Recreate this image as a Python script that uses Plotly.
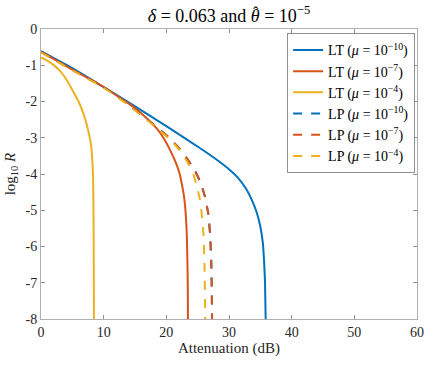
import plotly.graph_objects as go

# --- dados ---
lt_mu10_x = [0, 5, 9.4, 14.7, 20, 25.4, 28, 30, 31.5, 32.7, 33.6, 34.4, 35.0, 35.4, 35.6, 35.75, 35.85]
lt_mu10_y = [-0.61, -1.08, -1.54, -2.1, -2.68, -3.29, -3.6, -3.87, -4.12, -4.4, -4.7, -5.05, -5.45, -5.9, -6.4, -7.0, -8.0]

lt_mu7_x = [0, 5, 10, 14.7, 17, 18.5, 19.6, 20.6, 21.5, 22.1, 22.5, 22.85, 23.1, 23.25, 23.35, 23.42, 23.45]
lt_mu7_y = [-0.63, -1.12, -1.6, -2.14, -2.48, -2.75, -3.02, -3.34, -3.68, -3.98, -4.3, -4.65, -5.1, -5.6, -6.3, -7.0, -8.0]

lt_mu4_x = [0, 1, 2, 3, 4, 5, 6, 6.8, 7.4, 7.9, 8.15, 8.3, 8.38, 8.42, 8.45]
lt_mu4_y = [-0.78, -0.87, -0.99, -1.15, -1.38, -1.68, -2.0, -2.35, -2.7, -3.1, -3.5, -4.0, -5.0, -6.5, -8.0]

lp_mu10_x = [0, 5, 10, 13.7, 17.4, 20.6, 22.2, 23.5, 24.6, 25.5, 26.2, 26.7, 27.0, 27.2, 27.3]
lp_mu10_y = [-0.63, -1.12, -1.6, -2.05, -2.56, -3.02, -3.32, -3.62, -3.92, -4.25, -4.65, -5.1, -5.7, -6.6, -8.0]

lp_mu7_x = [0, 5, 10, 13.7, 17.4, 20.6, 22.2, 23.5, 24.6, 25.5, 26.2, 26.7, 27.0, 27.2, 27.3]
lp_mu7_y = [-0.63, -1.12, -1.6, -2.05, -2.56, -3.02, -3.32, -3.62, -3.92, -4.25, -4.65, -5.1, -5.7, -6.6, -8.0]

lp_mu4_x = [0, 5, 10, 13.7, 17.4, 20.6, 22.1, 23.3, 24.3, 24.9, 25.35, 25.65, 25.95, 26.1, 26.2]
lp_mu4_y = [-0.65, -1.14, -1.62, -2.07, -2.58, -3.05, -3.34, -3.65, -4.0, -4.35, -4.7, -5.1, -5.7, -6.6, -8.0]

x_ticks = [0, 10, 20, 30, 40, 50, 60]
y_ticks = [0, -1, -2, -3, -4, -5, -6, -7, -8]
y_ticktext = ["0", "-1", "-2", "-3", "-4", "-5", "-6", "-7", "-8"]

azul, vermelho, amarelo = "#0072BD", "#D95319", "#EDB120"
fonte = "Liberation Serif, DejaVu Serif, serif"

series = [
    (lt_mu10_x, lt_mu10_y, azul, "solid", "LT (<i>μ</i> = 10<sup>−10</sup>)"),
    (lt_mu7_x, lt_mu7_y, vermelho, "solid", "LT (<i>μ</i> = 10<sup>−7</sup>)"),
    (lt_mu4_x, lt_mu4_y, amarelo, "solid", "LT (<i>μ</i> = 10<sup>−4</sup>)"),
    (lp_mu10_x, lp_mu10_y, azul, "dash", "LP (<i>μ</i> = 10<sup>−10</sup>)"),
    (lp_mu7_x, lp_mu7_y, vermelho, "dash", "LP (<i>μ</i> = 10<sup>−7</sup>)"),
    (lp_mu4_x, lp_mu4_y, amarelo, "dash", "LP (<i>μ</i> = 10<sup>−4</sup>)"),
]

fig = go.Figure()
for xs, ys, cor, estilo, nome in series:
    fig.add_trace(go.Scatter(
        x=xs, y=ys, mode="lines", name=nome,
        line=dict(color=cor, width=2, dash=estilo, shape="spline", smoothing=0.3),
    ))

eixo = dict(
    showgrid=False, zeroline=False, showline=True, mirror="ticks",
    linecolor="#b0b0b0", linewidth=1, ticks="inside", ticklen=4,
    tickcolor="#909090", tickfont=dict(family=fonte, size=14, color="#262626"),
    automargin=False,
)

titulo = "<i>δ</i> = 0.063 and <i>θ</i> = 10<sup>−5</sup>"

fig.update_layout(
    width=428, height=365,
    margin=dict(l=41, r=11, t=29, b=46),
    paper_bgcolor="white", plot_bgcolor="white",
    font=dict(family=fonte, color="#262626"),
    title=dict(
        text=titulo,
        x=0.535, xanchor="center", y=0.975, yanchor="top",
        font=dict(family=fonte, size=18, color="black"),
    ),
    xaxis=dict(eixo, range=[0, 60], tickvals=x_ticks,
               title=dict(text="Attenuation (dB)", font=dict(family=fonte, size=15, color="#262626"), standoff=2)),
    yaxis=dict(eixo, range=[-8, 0], tickvals=y_ticks, ticktext=y_ticktext,
               title=dict(text="log<sub>10</sub> <i>R</i>", font=dict(family=fonte, size=15, color="#262626"), standoff=6)),
    legend=dict(
        x=0.995, y=0.985, xanchor="right", yanchor="top",
        bgcolor="white", bordercolor="#909090", borderwidth=1,
        font=dict(family=fonte, size=14, color="black"),
        tracegroupgap=0, itemwidth=30,
    ),
    hovermode=False,
    showlegend=True,
)

# chapéu do theta no título
fig.add_annotation(
    text="ˆ", xref="paper", yref="paper", x=0.572, y=1.058,
    xanchor="center", yanchor="middle", showarrow=False,
    font=dict(family=fonte, size=16, color="black"),
)

fig.write_html("out.html", config={"displayModeBar": False},
               post_script="document.body.style.margin='0';")
